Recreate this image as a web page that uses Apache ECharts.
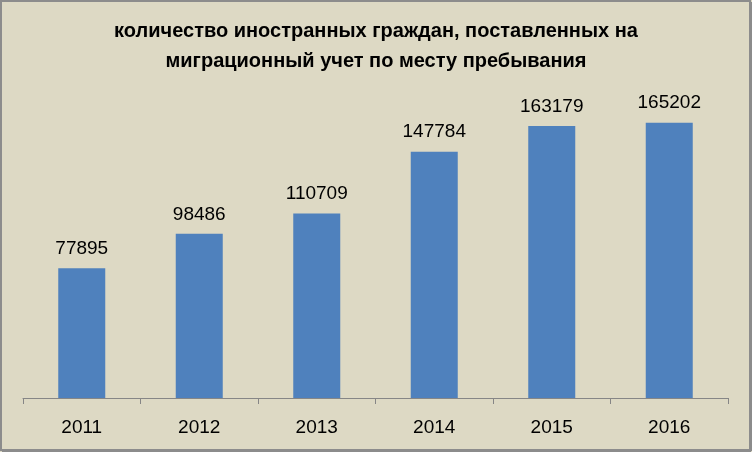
<!DOCTYPE html>
<html>
<head>
<meta charset="utf-8">
<script src="https://cdn.jsdelivr.net/npm/echarts@6/dist/echarts.min.js"></script>
<style>html,body{margin:0;padding:0;background:#DDD9C4;}#c{width:752px;height:452px;}</style>
</head>
<body>
<div id="c"></div>
<script>
const titleLines = ['количество иностранных граждан, поставленных на', 'миграционный учет по месту пребывания'];
const years = ['2011', '2012', '2013', '2014', '2015', '2016'];
const values = [77895, 98486, 110709, 147784, 163179, 165202];

const chart = echarts.init(document.getElementById('c'), null, {renderer: 'canvas'});
chart.setOption({
  backgroundColor: '#DDD9C4',
  animation: false,
  title: {
    text: titleLines.join('\n'),
    left: 'center',
    top: 11,
    textStyle: {fontFamily: 'Liberation Sans', fontWeight: 'bold', fontSize: 20, lineHeight: 30, color: '#000'}
  },
  graphic: [
    {type: 'rect', shape: {x: 1, y: 1, width: 749, height: 449}, style: {fill: 'none', stroke: '#8c8c8c', lineWidth: 2}, z: 100},
    {type: 'line', shape: {x1: 750.5, y1: 2, x2: 750.5, y2: 451}, style: {stroke: '#8c8c8c', lineWidth: 3}, z: 100},
    {type: 'line', shape: {x1: 2, y1: 450.5, x2: 751, y2: 450.5}, style: {stroke: '#8c8c8c', lineWidth: 3}, z: 100}
  ],
  grid: {left: 23, right: 24, top: 98, bottom: 54, containLabel: false},
  xAxis: {
    type: 'category',
    data: years,
    axisLine: {lineStyle: {color: '#868686', width: 1}},
    axisTick: {show: true, length: 6, lineStyle: {color: '#868686'}},
    axisLabel: {fontFamily: 'Liberation Sans', fontSize: 19, color: '#000', margin: 20}
  },
  yAxis: {
    type: 'value', min: 0, max: 180000, show: false,
    splitLine: {show: false}
  },
  series: [{
    type: 'bar',
    data: values,
    barWidth: 47,
    itemStyle: {color: '#4F81BD'},
    label: {show: true, position: 'top', distance: 10, fontFamily: 'Liberation Sans', fontSize: 19, color: '#000'}
  }]
});
</script>
</body>
</html>
